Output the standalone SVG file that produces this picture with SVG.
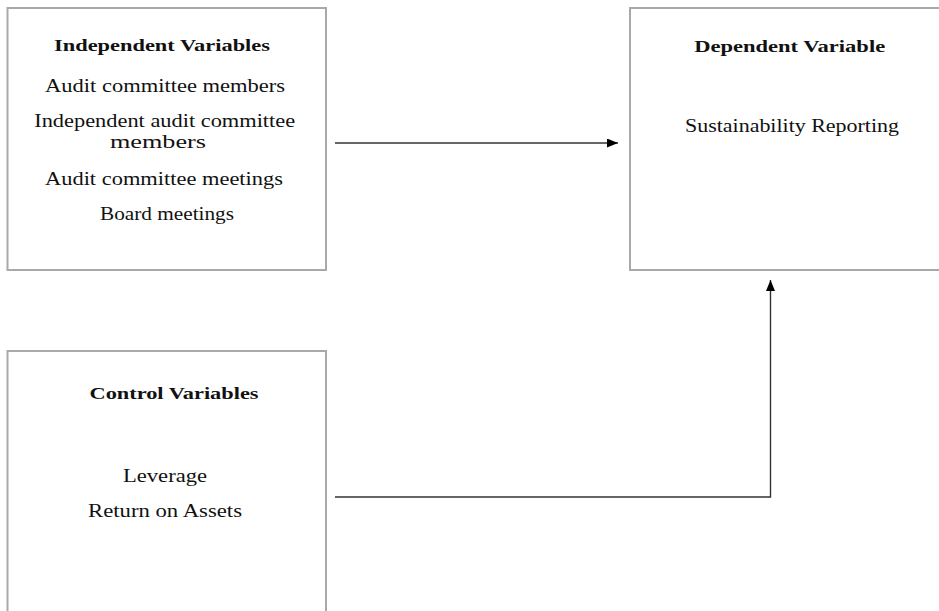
<svg xmlns="http://www.w3.org/2000/svg" width="939" height="611" viewBox="0 0 939 611">
<style>
.box{fill:#fff;stroke:#a9a9a9;stroke-width:2}
.t{font-family:"Liberation Serif","Times New Roman",serif;font-size:18px;fill:#111;text-anchor:middle}
.b{font-family:"Liberation Serif","Times New Roman",serif;font-size:17px;font-weight:bold;fill:#111;text-anchor:middle}
.c{fill:none;stroke:#333;stroke-width:1.4}
</style>
<defs>
<marker id="ah" markerWidth="11" markerHeight="9" refX="11" refY="4.5" orient="auto" markerUnits="userSpaceOnUse">
<path d="M0,0 L11,4.5 L0,9 Z" fill="#000"/>
</marker>
</defs>
<rect width="939" height="611" fill="#fff"/>
<g id="independent">
<rect class="box" x="7.5" y="8" width="318.5" height="262"/>
<text class="b" x="162" y="51" textLength="216" lengthAdjust="spacingAndGlyphs">Independent Variables</text>
<text class="t" x="165" y="91.5" textLength="240" lengthAdjust="spacingAndGlyphs">Audit committee members</text>
<text class="t" x="164.7" y="126.5" textLength="261" lengthAdjust="spacingAndGlyphs">Independent audit committee</text>
<text class="t" x="158" y="148" textLength="96" lengthAdjust="spacingAndGlyphs">members</text>
<text class="t" x="164" y="185" textLength="238" lengthAdjust="spacingAndGlyphs">Audit committee meetings</text>
<text class="t" x="167" y="220" textLength="134" lengthAdjust="spacingAndGlyphs">Board meetings</text>
</g>
<g id="dependent">
<rect class="box" x="630" y="8" width="320" height="262"/>
<text class="b" x="789.7" y="51.5" textLength="191" lengthAdjust="spacingAndGlyphs">Dependent Variable</text>
<text class="t" x="792" y="131.5" textLength="214" lengthAdjust="spacingAndGlyphs">Sustainability Reporting</text>
</g>
<g id="control">
<rect class="box" x="7.5" y="351" width="318.5" height="280"/>
<text class="b" x="174" y="399" textLength="169" lengthAdjust="spacingAndGlyphs">Control Variables</text>
<text class="t" x="165" y="481.5" textLength="84" lengthAdjust="spacingAndGlyphs">Leverage</text>
<text class="t" x="165" y="516.5" textLength="154" lengthAdjust="spacingAndGlyphs">Return on Assets</text>
</g>
<g id="connectors">
<line class="c" x1="335" y1="143" x2="618" y2="143" marker-end="url(#ah)"/>
<polyline class="c" points="335,497 770.5,497 770.5,280" marker-end="url(#ah)"/>
</g>
</svg>
